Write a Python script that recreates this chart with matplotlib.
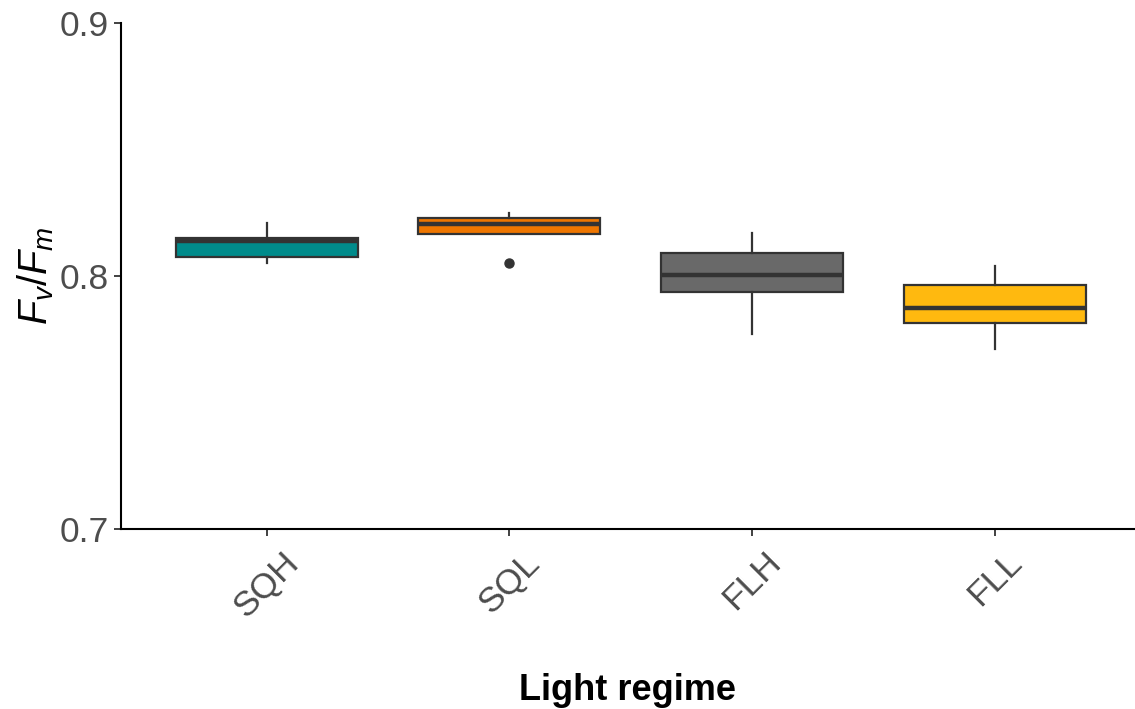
import matplotlib
matplotlib.use("Agg")
import matplotlib.pyplot as plt

plt.rcParams['font.family'] = ['Liberation Sans', 'DejaVu Sans']
plt.rcParams['mathtext.fontset'] = 'custom'
plt.rcParams['mathtext.it'] = 'Liberation Sans:italic'
plt.rcParams['mathtext.rm'] = 'Liberation Sans'

regimes = ['SQH', 'SQL', 'FLH', 'FLL']
whislo = [0.8051, 0.8166, 0.7771, 0.7711]
q1 = [0.8075, 0.8166, 0.7938, 0.7815]
med = [0.8138, 0.8206, 0.8004, 0.7872]
q3 = [0.8150, 0.8230, 0.8091, 0.7964]
whishi = [0.8209, 0.8250, 0.8170, 0.8040]
outliers = [[], [0.8051], [], []]
colors = ['#008B8B', '#EE7600', '#696969', '#FFB90F']

stats = []
for i in range(len(regimes)):
    stats.append(dict(label=regimes[i], whislo=whislo[i], q1=q1[i], med=med[i],
                      q3=q3[i], whishi=whishi[i], fliers=outliers[i]))

fig = plt.figure(figsize=(11.35, 7.09), dpi=100)
ax = fig.add_axes([0.1066, 0.2539, 0.8934, 0.7137])

edge = '#333333'
bp = ax.bxp(stats, positions=[1, 2, 3, 4], widths=0.75, patch_artist=True,
            showcaps=False,
            boxprops=dict(edgecolor=edge, linewidth=1.6),
            medianprops=dict(color=edge, linewidth=3.2, solid_capstyle='butt'),
            whiskerprops=dict(color=edge, linewidth=1.6),
            flierprops=dict(marker='o', markerfacecolor=edge, markeredgecolor=edge,
                            markersize=6.5))
for patch, c in zip(bp['boxes'], colors):
    patch.set_facecolor(c)

ax.set_ylim(0.7, 0.9)
ax.set_xlim(0.4, 4.577)
ax.set_yticks([0.7, 0.8, 0.9])
ax.set_yticklabels(['0.7', '0.8', '0.9'])
ax.set_xticks([1, 2, 3, 4])
ax.set_xticklabels(regimes, rotation=45, ha='center', va='top')

for s in ['top', 'right']:
    ax.spines[s].set_visible(False)
for s in ['left', 'bottom']:
    ax.spines[s].set_linewidth(1.5)
    ax.spines[s].set_color('black')

ax.tick_params(axis='both', length=5, width=1.3, color='#333333',
               labelsize=25.5, labelcolor='#4D4D4D')
ax.tick_params(axis='x', pad=7)
ax.tick_params(axis='y', pad=4)

ax.set_ylabel(r'$F_v/F_m$', fontsize=28.5, color='black', labelpad=2)
ax.set_xlabel('Light regime', fontsize=26, fontweight='bold', color='black', labelpad=36)

fig.savefig('out.png', dpi=100)
